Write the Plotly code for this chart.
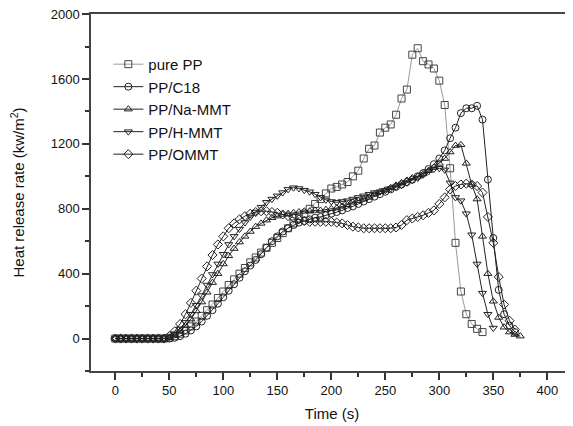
import plotly.graph_objects as go

# time grid (s), 5 s steps
t_pp = list(range(0, 345, 5))
pure_pp = [0, 0, 0, 0, 0, 0, 0, 0, 0, 0,
           5, 15, 30, 50, 75, 105, 140, 175, 210, 250,
           290, 330, 365, 400, 435, 470, 500, 530, 560, 590,
           620, 650, 680, 710, 740, 770, 800, 830, 860, 895,
           925, 935, 950, 965, 1000, 1035, 1110, 1170, 1190, 1270,
           1300, 1320, 1380, 1480, 1535, 1750, 1790, 1710, 1690, 1665,
           1590, 1440, 1050, 590, 290, 150, 90, 60, 40]

t_c18 = list(range(0, 375, 5))
pp_c18 = [0, 0, 0, 0, 0, 0, 0, 0, 0, 0,
          0, 5, 15, 30, 50, 75, 105, 140, 175, 215,
          255, 295, 335, 375, 415, 450, 485, 520, 560, 600,
          630, 660, 680, 700, 715, 725, 735, 745, 750, 760,
          770, 780, 790, 805, 815, 830, 845, 860, 875, 890,
          905, 920, 935, 950, 965, 980, 1000, 1020, 1045, 1075,
          1110, 1160, 1235, 1300, 1390, 1420, 1420, 1435, 1350, 980,
          620, 300, 150, 80, 40]

t_na = list(range(0, 380, 5))
pp_na = [0, 0, 0, 0, 0, 0, 0, 0, 0, 0,
         5, 20, 45, 80, 120, 170, 225, 285, 345, 400,
         460, 510, 555, 595, 630, 660, 690, 710, 730, 745,
         755, 765, 770, 775, 780, 785, 785, 790, 790, 795,
         800, 805, 815, 825, 840, 850, 860, 870, 890, 905,
         915, 930, 945, 960, 975, 990, 1000, 1015, 1035, 1055,
         1080, 1110, 1150, 1190, 1195, 1080, 950, 860, 630, 400,
         230, 130, 70, 40, 25, 15]

t_h = list(range(0, 355, 5))
pp_h = [0, 0, 0, 0, 0, 0, 0, 0, 0, 0,
        10, 30, 60, 100, 150, 205, 265, 330, 395, 460,
        520, 580, 630, 675, 715, 750, 780, 810, 840, 860,
        880, 900, 920, 930, 925, 915, 905, 890, 870, 855,
        845, 840, 845, 850, 860, 870, 880, 890, 900, 905,
        915, 925, 935, 945, 960, 975, 990, 1010, 1030, 1045,
        1050, 1040, 960, 870, 850, 770, 640, 460, 280, 150,
        65]

t_om = list(range(0, 375, 5))
pp_ommt = [0, 0, 0, 0, 0, 0, 0, 0, 0, 0,
           15, 45, 90, 150, 220, 295, 370, 445, 515, 580,
           630, 680, 710, 735, 755, 770, 780, 785, 785, 780,
           775, 765, 755, 745, 735, 725, 720, 720, 720, 720,
           720, 715, 710, 700, 690, 685, 680, 680, 680, 680,
           680, 680, 685, 700, 730, 740, 750, 760, 775, 790,
           830, 870, 920, 940, 950, 955, 950, 940, 900, 750,
           590, 380, 210, 110, 55]

series = [
    ("pure PP", t_pp, pure_pp, "square-open", "#9a9a9a", "#444444"),
    ("PP/C18", t_c18, pp_c18, "circle-open", "#222222", "#222222"),
    ("PP/Na-MMT", t_na, pp_na, "triangle-up-open", "#222222", "#222222"),
    ("PP/H-MMT", t_h, pp_h, "triangle-down-open", "#222222", "#222222"),
    ("PP/OMMT", t_om, pp_ommt, "diamond-open", "#222222", "#222222"),
]

fig = go.Figure()
for name, x, y, sym, lc, mc in series:
    fig.add_trace(go.Scatter(
        x=x, y=y, name=name, mode="lines+markers",
        line=dict(color=lc, width=1),
        marker=dict(symbol=sym, size=7, color=mc, line=dict(width=1, color=mc)),
    ))

font = "Arial, Liberation Sans, sans-serif"
fig.update_layout(
    width=565, height=418,
    margin=dict(l=83, r=0, t=6, b=55, autoexpand=False),
    paper_bgcolor="white", plot_bgcolor="white",
    font=dict(family=font, size=13, color="#111"),
    legend=dict(x=0.036, y=0.905, xanchor="left", yanchor="top",
                font=dict(size=15, family=font), bgcolor="rgba(0,0,0,0)",
                itemwidth=30, tracegroupgap=0),
    showlegend=True,
)
fig.update_xaxes(
    range=[-22.5, 423.8], tickvals=[0, 50, 100, 150, 200, 250, 300, 350, 400],
    ticks="outside", ticklen=7, tickwidth=1.5, tickcolor="#333",
    minor=dict(dtick=25, tick0=0, ticks="outside", ticklen=4, tickwidth=1.5, tickcolor="#333"),
    showline=True, linecolor="#444", linewidth=1.5, mirror=True,
    showgrid=False, zeroline=False, automargin=False,
    title=dict(text="Time (s)", font=dict(size=15, family=font), standoff=11),
    tickfont=dict(size=13),
)
fig.update_yaxes(
    range=[-200, 2001], tickvals=[0, 400, 800, 1200, 1600, 2000],
    ticks="outside", ticklen=7, tickwidth=1.5, tickcolor="#333",
    minor=dict(dtick=200, tick0=0, ticks="outside", ticklen=4, tickwidth=1.5, tickcolor="#333"),
    showline=True, linecolor="#444", linewidth=1.5, mirror=False,
    showgrid=False, zeroline=False, automargin=False, ticklabeloverflow="allow",
    title=dict(text="Heat release rate (kw/m<sup>2</sup>)", font=dict(size=15, family=font), standoff=22),
    tickfont=dict(size=13),
)
fig.write_html("out.html")
